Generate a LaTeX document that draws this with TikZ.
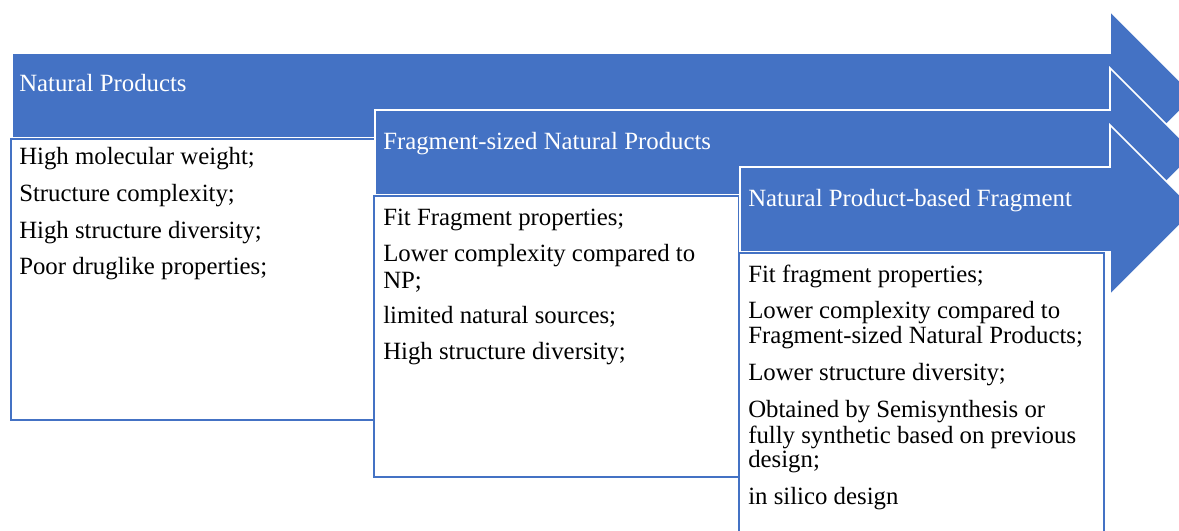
\documentclass[tikz,border=0pt]{standalone}
\usepackage{fontspec}
\setmainfont{Liberation Serif}
\usepackage{tikz}

\definecolor{npblue}{RGB}{68,114,196}

\begin{document}
\begin{tikzpicture}[x=0.75pt,y=-0.75pt,
        arrowshape/.style={fill=npblue,draw=white,line width=1.2pt},
        boxshape/.style={fill=white,draw=npblue,line width=1.6pt},
        titletext/.style={anchor=base west,inner sep=0,text=white,font=\fontsize{18.6}{21}\selectfont},
        itemtext/.style={anchor=base west,inner sep=0,font=\fontsize{18.6}{21}\selectfont}]
    \clip (0,0) rectangle (1179,531);
    % arrow and box for each stage
    \foreach \n/\xl/\yt in {1/12/53,2/375/110,3/740/167}{
        \draw[arrowshape] (\xl,\yt) -- (1110,\yt) -- (1110,\yt-42) -- (1195,\yt+43)
            -- (1110,\yt+128) -- (1110,\yt+85) -- (\xl,\yt+85) -- cycle;
        \draw[boxshape] (\xl-1,\yt+86) rectangle (\xl+364,\yt+367);
    }
    % titles
    \node[titletext] (t1) at (19,92) {Natural Products};
    \node[titletext] (t2) at (383,150) {Fragment-sized Natural Products};
    \node[titletext] (t3) at (748,207) {Natural Product-based Fragment};
    % first box
    \foreach \i/\y/\t in {1/165/High molecular weight;, 2/202/Structure complexity;,
            3/239/High structure diversity;, 4/275/Poor druglike properties;}
        \node[itemtext] (a\i) at (19,\y) {\t};
    % second box
    \foreach \i/\y/\t in {1/226/Fit Fragment properties;, 2/262/Lower complexity compared to,
            3/288/NP;, 4/323/limited natural sources;, 5/359/High structure diversity;}
        \node[itemtext] (b\i) at (383,\y) {\t};
    % third box
    \foreach \i/\y/\t in {1/282/Fit fragment properties;, 2/318/Lower complexity compared to,
            3/343/Fragment-sized Natural Products;, 4/380/Lower structure diversity;,
            5/417/Obtained by Semisynthesis or, 6/443/fully synthetic based on previous,
            7/467/design;, 8/504/in silico design}
        \node[itemtext] (c\i) at (748,\y) {\t};
\end{tikzpicture}
\end{document}
